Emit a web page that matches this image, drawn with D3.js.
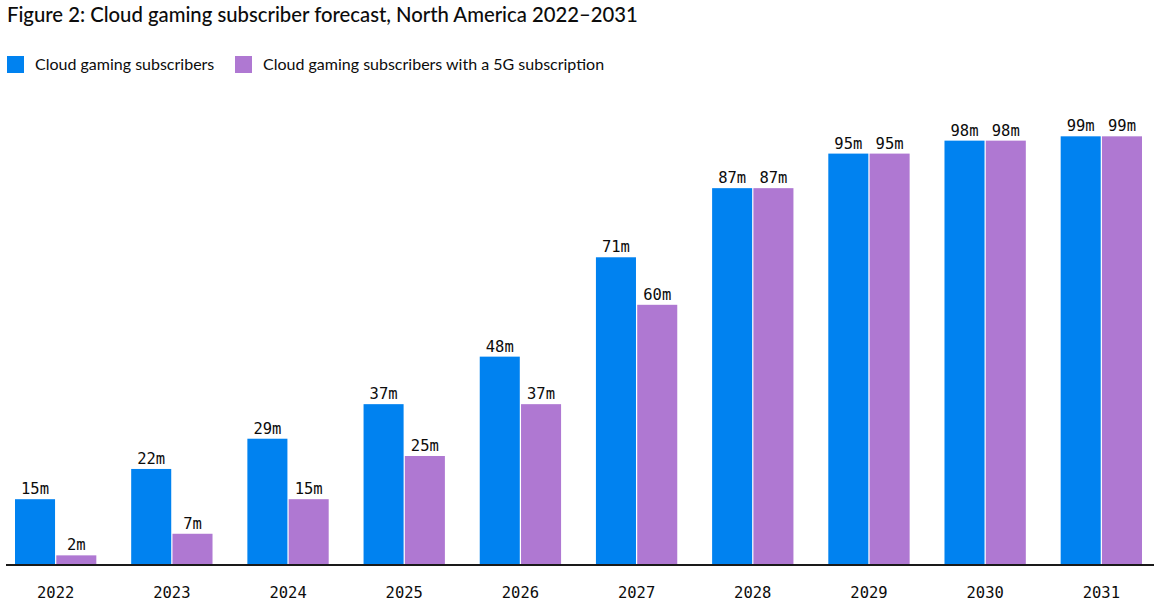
<!DOCTYPE html>
<html>
<head>
<meta charset="utf-8">
<script src="https://cdn.jsdelivr.net/npm/d3@7"></script>
<style>
  body { margin: 0; background: #fff; }
  svg text { fill: #0c0c0c; }
</style>
</head>
<body>
<div id="chart"></div>
<script>
const years = ['2022', '2023', '2024', '2025', '2026', '2027', '2028', '2029', '2030', '2031'];
const seriesNames = ['Cloud gaming subscribers', 'Cloud gaming subscribers with a 5G subscription'];
const cloudSubs = [15, 22, 29, 37, 48, 71, 87, 95, 98, 99];
const cloud5gSubs = [2, 7, 15, 25, 37, 60, 87, 95, 98, 99];
const colors = ['#0082F0', '#AF78D2'];

const width = 1154;
const height = 602;
const baseline = 564;

const svg = d3.select('#chart').append('svg')
  .attr('width', width)
  .attr('height', height);

// 标题
svg.append('text')
  .attr('x', 7)
  .attr('y', 22)
  .attr('font-family', 'Lato, "Open Sans", sans-serif')
  .attr('font-size', 20.3)
  .attr('font-weight', 500)
  .text('Figure 2: Cloud gaming subscriber forecast, North America 2022\u20132031');

// 图例
const legendX = [7, 235];
seriesNames.forEach((name, i) => {
  svg.append('rect')
    .attr('x', legendX[i])
    .attr('y', 56)
    .attr('width', 17)
    .attr('height', 17)
    .attr('fill', colors[i]);
  svg.append('text')
    .attr('x', legendX[i] + 28)
    .attr('y', 70)
    .attr('font-family', 'Lato, "Open Sans", sans-serif')
    .attr('font-size', 16)
    .text(name);
});

const x = d3.scaleBand()
  .domain(years)
  .range([15, 1142])
  .paddingInner(0.3)
  .paddingOuter(0);

const xInner = d3.scaleBand()
  .domain([0, 1])
  .range([0, x.bandwidth()])
  .paddingInner(0.03);

const y = d3.scaleLinear()
  .domain([0, 100])
  .range([baseline, 132]);

const rows = years.map((yr, i) => ({ year: yr, values: [cloudSubs[i], cloud5gSubs[i]] }));

const groups = svg.append('g').selectAll('g')
  .data(rows)
  .join('g')
  .attr('transform', d => `translate(${x(d.year)},0)`);

groups.selectAll('rect')
  .data(d => d.values.map((v, i) => ({ v, i })))
  .join('rect')
  .attr('x', d => xInner(d.i))
  .attr('y', d => y(d.v))
  .attr('width', xInner.bandwidth())
  .attr('height', d => baseline - y(d.v))
  .attr('fill', d => colors[d.i]);

groups.selectAll('text.val')
  .data(d => d.values.map((v, i) => ({ v, i })))
  .join('text')
  .attr('class', 'val')
  .attr('x', d => xInner(d.i) + xInner.bandwidth() / 2)
  .attr('y', d => y(d.v) - 5)
  .attr('text-anchor', 'middle')
  .attr('font-family', '"DejaVu Sans Mono", monospace')
  .attr('font-size', 15.5)
  .text(d => `${d.v}m`);

// x 轴
const xAxis = svg.append('g')
  .attr('transform', `translate(0,${baseline})`)
  .call(d3.axisBottom(x).tickSize(0).tickPadding(23));
xAxis.select('.domain').remove();
xAxis.selectAll('text')
  .attr('font-family', '"DejaVu Sans Mono", monospace')
  .attr('font-size', 15.5)
  .attr('fill', '#0c0c0c');

svg.append('line')
  .attr('x1', 6)
  .attr('x2', width)
  .attr('y1', baseline + 1)
  .attr('y2', baseline + 1)
  .attr('stroke', '#1a1a1a')
  .attr('stroke-width', 2);
</script>
</body>
</html>
